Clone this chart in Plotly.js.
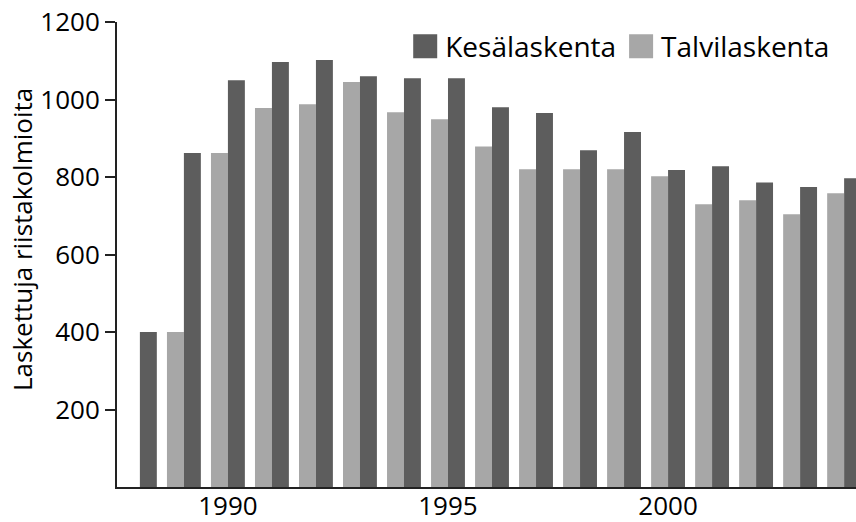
<!DOCTYPE html>
<html>
<head>
<meta charset="utf-8">
<script src="https://cdn.plot.ly/plotly-3.0.1.min.js"></script>
<style>html,body{margin:0;padding:0;background:#fff;}</style>
</head>
<body>
<div id="chart" style="width:856px;height:522px;"></div>
<script>
const years = [1988,1989,1990,1991,1992,1993,1994,1995,1996,1997,1998,1999,2000,2001,2002,2003,2004];
const kesalaskenta = [400,862,1050,1097,1102,1060,1055,1055,980,965,869,916,818,828,786,774,797];
const talvilaskenta = [null,400,862,978,988,1045,967,949,879,820,820,820,802,730,740,704,758];
const xTickVals = [1990,1995,2000];
const yTickVals = [200,400,600,800,1000,1200];

const FONT = '"Open Sans", "DejaVu Sans", sans-serif';

const traces = [
  {type:'bar', name:'Talvilaskenta', x:years, y:talvilaskenta,
   marker:{color:'#a7a7a7', line:{width:0}}, hoverinfo:'x+y'},
  {type:'bar', name:'Kesälaskenta', x:years, y:kesalaskenta,
   marker:{color:'#5d5d5d', line:{width:0}}, hoverinfo:'x+y'}
];

const layout = {
  width:856, height:522,
  margin:{l:117, r:0, t:22, b:35, pad:0},
  paper_bgcolor:'#fff', plot_bgcolor:'#fff',
  font:{family:FONT, size:26, color:'#000'},
  barmode:'group', bargap:0.23, bargroupgap:0,
  showlegend:true,
  legend:{orientation:'h', x:0.390, xanchor:'left', y:0.947, yanchor:'middle',
          traceorder:'reversed', font:{family:FONT, size:28, color:'#000'},
          bgcolor:'rgba(0,0,0,0)', borderwidth:0, itemclick:false},
  xaxis:{range:[1987.48, 2004.27], tickvals:xTickVals, ticktext:xTickVals.map(String),
         showline:true, linecolor:'#222', linewidth:2, ticks:'', showgrid:false,
         zeroline:false, tickfont:{size:26}, ticklabelstandoff:-5, fixedrange:true},
  yaxis:{range:[0,1200], tickvals:yTickVals, showline:true, linecolor:'#222', linewidth:2,
         ticks:'outside', ticklen:10, tickwidth:1.5, tickcolor:'#222', showgrid:false,
         zeroline:false, tickfont:{size:26}, fixedrange:true},
  annotations:[{text:'Laskettuja riistakolmioita', xref:'paper', yref:'paper',
    x:(22-117)/739, y:(487-240)/465, xanchor:'center', yanchor:'middle', textangle:-90,
    showarrow:false, font:{family:FONT, size:26, color:'#000'}}]
};

function bigLegendSymbols(){
  document.querySelectorAll('.legend .legendpoints path').forEach(p=>{
    p.setAttribute('d','M12,12H-12V-12H12Z');
  });
}
const gd = document.getElementById('chart');
Plotly.newPlot(gd, traces, layout, {displayModeBar:false}).then(()=>{
  bigLegendSymbols();
  gd.on('plotly_afterplot', bigLegendSymbols);
});
</script>
</body>
</html>
